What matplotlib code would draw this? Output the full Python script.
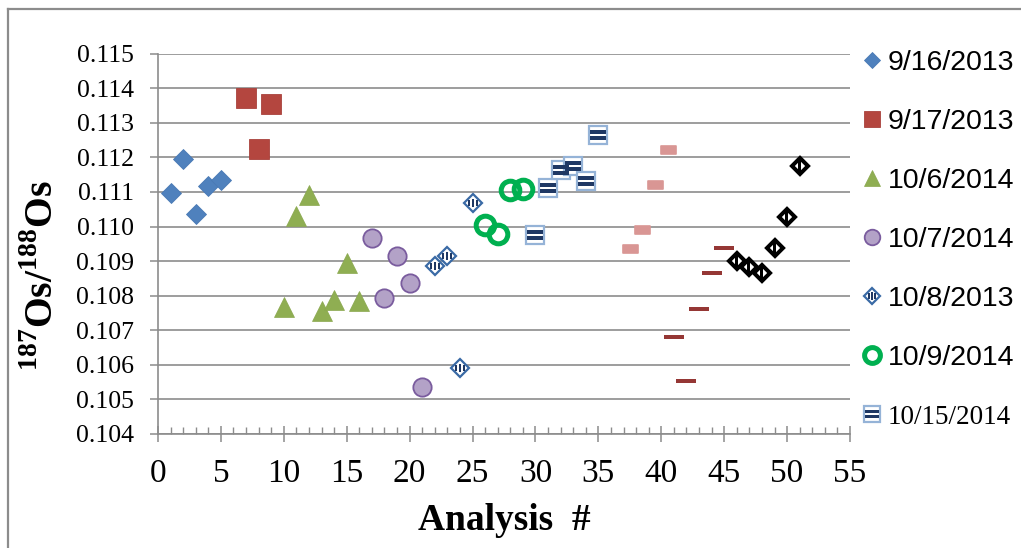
import numpy as np
import matplotlib
matplotlib.use('Agg')
import matplotlib.pyplot as plt
from matplotlib.path import Path
from matplotlib.markers import MarkerStyle
from matplotlib.lines import Line2D
from matplotlib.ticker import MultipleLocator

plt.rcParams['mathtext.fontset'] = 'custom'
plt.rcParams['mathtext.rm'] = 'Liberation Serif'
plt.rcParams['mathtext.bf'] = 'Liberation Serif:bold'

# Os isotope ratio by analysis number, one list pair per session
x_0916_2013 = [1, 2, 3, 4, 5]
y_0916_2013 = [0.11097, 0.11195, 0.11036, 0.11116, 0.11135]

x_0917_2013 = [7, 8, 9]
y_0917_2013 = [0.11371, 0.11224, 0.11355]

x_1006_2014 = [10, 11, 12, 13, 14, 15, 16]
y_1006_2014 = [0.10766, 0.11030, 0.11092, 0.10757, 0.10788, 0.10894, 0.10786]

x_1007_2014 = [17, 18, 19, 20, 21]
y_1007_2014 = [0.10968, 0.10792, 0.10916, 0.10838, 0.10536]

x_1008_2013 = [22, 23, 24, 25]
y_1008_2013 = [0.10886, 0.10915, 0.10591, 0.11069]

x_1009_2014 = [26, 27, 28, 29]
y_1009_2014 = [0.11005, 0.10979, 0.11106, 0.11108]

x_1015_2014 = [30, 31, 32, 33, 34, 35]
y_1015_2014 = [0.10976, 0.11111, 0.11164, 0.11175, 0.11133, 0.11265]

# series without a legend entry
x_pink = [37.5, 38.5, 39.5, 40.5]
y_pink = [0.10936, 0.10990, 0.11121, 0.11222]

x_darkred = [41, 42, 43, 44, 45]
y_darkred = [0.10680, 0.10552, 0.10762, 0.10865, 0.10939]

x_black = [46, 47, 48, 49, 50, 51]
y_black = [0.10899, 0.10882, 0.10867, 0.10938, 0.11027, 0.11176]

legend_labels = ['9/16/2013', '9/17/2013', '10/6/2014', '10/7/2014',
                 '10/8/2013', '10/9/2014', '10/15/2014']

W, H, DPI = 1021, 548, 100
GRAY = '#8C8C8C'
NAVY = '#1F3864'


def rect_marker(rects, joinstyle='miter'):
    """Build a marker from rectangles given in pixels around the centre.
    Returns the marker and the markersize (points) that keeps pixel scale."""
    verts, codes = [], []
    for x0, y0, x1, y1 in rects:
        verts += [(x0, y0), (x1, y0), (x1, y1), (x0, y1), (x0, y0)]
        codes += [Path.MOVETO, Path.LINETO, Path.LINETO, Path.LINETO, Path.CLOSEPOLY]
    verts = np.array(verts, float)
    ms = 2 * np.abs(verts).max() * 72 / DPI
    return MarkerStyle(Path(verts, codes), joinstyle=joinstyle), ms


fig = plt.figure(figsize=(W / DPI, H / DPI), dpi=DPI)
ax = fig.add_axes([158 / W, 1 - 434 / H, (850 - 158) / W, (434 - 53.7) / H])

h1, = ax.plot(x_0916_2013, y_0916_2013, 'D', ls='none', ms=9.8, mfc='#4F81BD', mec='#4A7AB5', mew=0.6)
h2, = ax.plot(x_0917_2013, y_0917_2013, 's', ls='none', ms=14.2, mfc='#B4463F', mec='#A9423C', mew=0.6)
h3, = ax.plot(x_1006_2014, y_1006_2014, '^', ls='none', ms=14.2, mfc='#8FAE52', mec='#8AA84E', mew=0.5)
h4, = ax.plot(x_1007_2014, y_1007_2014, 'o', ls='none', ms=13.2, mfc='#B3A2C7', mec='#7A5C9E', mew=1.3)

h5, = ax.plot(x_1008_2013, y_1008_2013, 'D', ls='none', ms=9.2, mfc='white', mec='#3A6AA5', mew=1.6)
m5, ms5 = rect_marker([(-5.0, -3, -2.6, 3), (-1.2, -4.2, 1.2, 4.2), (2.6, -3, 5.0, 3)])
o5, = ax.plot(x_1008_2013, y_1008_2013, ls='none', marker=m5, ms=ms5, mfc=NAVY, mew=0)

h6, = ax.plot(x_1009_2014, y_1009_2014, 'o', ls='none', ms=13.4, mfc='none', mec='#00B050', mew=3.6)

h7, = ax.plot(x_1015_2014, y_1015_2014, 's', ls='none', ms=13.0, mfc='white', mec='#95B3D7', mew=1.6)
m7, ms7 = rect_marker([(-8, 1.0, 8, 5.0), (-8, -5.0, 8, -1.0)])
o7, = ax.plot(x_1015_2014, y_1015_2014, ls='none', marker=m7, ms=ms7, mfc=NAVY, mew=0)

mp, msp = rect_marker([(-7.5, -4, 7.5, 4)], joinstyle='round')
ax.plot(x_pink, y_pink, ls='none', marker=mp, ms=msp, mfc='#D99694', mec='#D99694', mew=1.2)
md, msd = rect_marker([(-10, -2.4, 10, 2.4)])
ax.plot(x_darkred, y_darkred, ls='none', marker=md, ms=msd, mfc='#953735', mew=0)

ax.plot(x_black, y_black, 'D', ls='none', ms=8.2, mfc='white', mec='black', mew=2.9)
mb, msb = rect_marker([(-2.5, -6, 0.5, 6)])
ax.plot(x_black, y_black, ls='none', marker=mb, ms=msb, mfc='black', mew=0)

# axes
ax.set_xlim(0, 55)
ax.set_ylim(0.104, 0.115)
ax.set_xticks(range(0, 56, 5))
ax.xaxis.set_minor_locator(MultipleLocator(1))
yt = np.round(np.arange(0.104, 0.1151, 0.001), 3)
ax.set_yticks(yt)
ax.set_yticklabels([f'{v:.3f}' for v in yt])
for s in ['top', 'right']:
    ax.spines[s].set_visible(False)
for s in ['left', 'bottom']:
    ax.spines[s].set_color(GRAY)
    ax.spines[s].set_linewidth(1.2)
ax.set_axisbelow(True)
ax.grid(axis='y', color=GRAY, lw=1.2)

ax.tick_params(axis='x', which='major', direction='inout', length=11, width=1.1,
               color=GRAY, labelsize=24, pad=12.5)
ax.tick_params(axis='x', which='minor', direction='in', length=5, width=1.0, color=GRAY)
ax.tick_params(axis='y', which='major', direction='out', length=5.8, width=1.1,
               color=GRAY, labelsize=18.5, pad=11.5)
for lab in ax.get_xticklabels() + ax.get_yticklabels():
    lab.set_fontfamily('Liberation Serif')

fig.text(504 / W, 1 - 530 / H, 'Analysis  #', ha='center', va='baseline',
         family='Liberation Serif', weight='bold', size=27)
fig.text(42 / W, 1 - 276 / H, r'$^{\mathbf{187}}\mathbf{Os/}^{\mathbf{188}}\mathbf{Os}$',
         rotation=90, ha='center', va='center', size=28.5)

# legend (only the first seven sessions)
leg = fig.legend([h1, h2, h3, h4, (h5, o5), h6, (h7, o7)], legend_labels,
                 loc='upper left', bbox_to_anchor=(861 / W, 1 - 50 / H),
                 frameon=False, borderpad=0, borderaxespad=0, handlelength=0.75,
                 handletextpad=0.2, labelspacing=1.16, numpoints=1, markerscale=0.85,
                 prop={'family': 'Liberation Sans', 'size': 20.5})
leg.get_texts()[-1].set_fontfamily('Liberation Serif')
leg.get_texts()[-1].set_fontsize(19.5)

# chart-area border (only top and left show in the crop)
fig.add_artist(Line2D([8 / W, 1], [1 - 9 / H, 1 - 9 / H], transform=fig.transFigure, color=GRAY, lw=1.6))
fig.add_artist(Line2D([8 / W, 8 / W], [1 - 9 / H, 0], transform=fig.transFigure, color=GRAY, lw=1.6))

fig.savefig('out.png', dpi=DPI)
